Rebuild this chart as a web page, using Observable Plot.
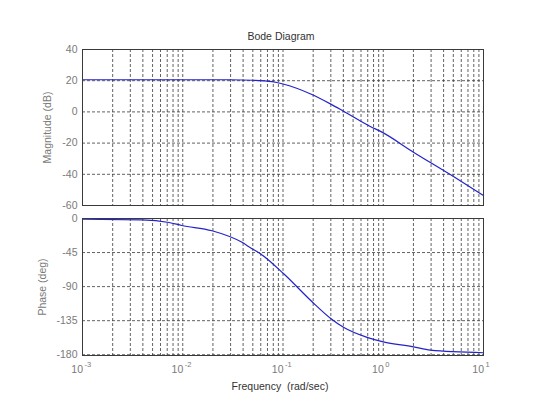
<!DOCTYPE html>
<html>
<head>
<meta charset="utf-8">
<script src="https://cdn.jsdelivr.net/npm/d3@7"></script>
<script src="https://cdn.jsdelivr.net/npm/@observablehq/plot@0.6"></script>
<style>
  html, body { margin: 0; padding: 0; background: #fff; }
  #wrap { position: relative; width: 533px; height: 399px; font-family: "Liberation Sans", Arial, sans-serif; }
  #wrap svg { position: absolute; left: 0; }
</style>
</head>
<body>
<div id="wrap"></div>
<script>
// Data
const magFreq = [0.001, 0.003, 0.01, 0.03, 0.05, 0.078, 0.1, 0.189, 0.3, 0.405, 0.75, 0.94, 2, 4.84, 10];
const magDb   = [20.6, 20.6, 20.6, 20.6, 20.3, 19.4, 17.9, 11.5, 5, 0.3, -9.5, -12.5, -25.8, -40.8, -53.6];

const phFreq = [0.001, 0.0039, 0.0073, 0.0098, 0.0196, 0.039, 0.0477, 0.0599, 0.1016, 0.195, 0.299, 0.405, 0.69, 1.0, 2.0, 2.95, 10];
const phDeg  = [-1, -1.7, -5.3, -9.2, -16.2, -31.5, -38.9, -46.8, -73, -110, -132, -144, -157, -163, -169.5, -174, -177.4];

const magTicks = [40, 20, 0, -20, -40, -60];
const phTicks = [0, -45, -90, -135, -180];
const decadeTicks = [0.001, 0.01, 0.1, 1, 10];
const decadeExp = ["-3", "-2", "-1", "0", "1"];

(function () {
const magData = magFreq.map((f, i) => ({f, v: magDb[i]}));
const phData = phFreq.map((f, i) => ({f, v: phDeg[i]}));
const decData = decadeTicks.map((f, i) => ({f, e: decadeExp[i]}));

const xDomain = [0.001, 10];
const minorTicks = d3.scaleLog().domain(xDomain).ticks();

const gridStyle = {stroke: "#3a3a3a", strokeOpacity: 1, strokeWidth: 0.8, strokeDasharray: "3,2"};
const lineColor = "#2323cc";
const textColor = "#7a7a7a";
const font = "Liberation Sans, Arial, sans-serif";
const fmt = d => String(d);

const wrap = document.getElementById("wrap");

const topPlot = Plot.plot({
  width: 533, height: 210,
  marginLeft: 82, marginRight: 50, marginTop: 49, marginBottom: 5,
  style: {fontFamily: font, fontSize: "10.5px", color: textColor, background: "transparent", overflow: "visible"},
  x: {type: "log", domain: xDomain, axis: null},
  y: {domain: [-60, 40]},
  marks: [
    Plot.ruleX(minorTicks, {...gridStyle}),
    Plot.ruleY(magTicks, {...gridStyle}),
    Plot.line(magData, {x: "f", y: "v", stroke: lineColor, strokeWidth: 1.2, curve: "monotone-x"}),
    Plot.frame({stroke: "#3a3a3a", strokeWidth: 1}),
    Plot.axisY(magTicks, {tickSize: 0, tickPadding: 5, tickFormat: fmt, label: "Magnitude (dB)", labelAnchor: "center", labelArrow: "none", labelOffset: 39, fill: textColor, fontSize: 10.5}),
    Plot.text(["Bode Diagram"], {frameAnchor: "top", dy: -13, dx: -2, lineAnchor: "middle", fill: "#333", fontSize: 10.5})
  ]
});
topPlot.style.top = "0px";
wrap.appendChild(topPlot);

const botPlot = Plot.plot({
  width: 533, height: 189,
  marginLeft: 82, marginRight: 50, marginTop: 8, marginBottom: 44,
  style: {fontFamily: font, fontSize: "10.5px", color: textColor, background: "transparent", overflow: "visible"},
  x: {type: "log", domain: xDomain, axis: null},
  y: {domain: [-181, 0]},
  marks: [
    Plot.ruleX(minorTicks, {...gridStyle}),
    Plot.ruleY(phTicks, {...gridStyle}),
    Plot.line(phData, {x: "f", y: "v", stroke: lineColor, strokeWidth: 1.2, curve: "monotone-x"}),
    Plot.frame({stroke: "#3a3a3a", strokeWidth: 1}),
    Plot.axisY(phTicks, {tickSize: 0, tickPadding: 5, tickFormat: fmt, label: "Phase (deg)", labelAnchor: "center", labelArrow: "none", labelOffset: 44, fill: textColor, fontSize: 10.5}),
    Plot.text(decData, {x: "f", text: () => "10", frameAnchor: "bottom", dy: 14.5, textAnchor: "end", dx: 0.5, lineAnchor: "middle", fill: textColor, fontSize: 10.5}),
    Plot.text(decData, {x: "f", text: "e", frameAnchor: "bottom", dy: 9, textAnchor: "start", dx: 2, lineAnchor: "middle", fill: textColor, fontSize: 7.5}),
    Plot.text(["Frequency  (rad/sec)"], {frameAnchor: "bottom", dy: 31, dx: -3, lineAnchor: "middle", fill: "#333", fontSize: 10.5})
  ]
});
botPlot.style.top = "210px";
wrap.appendChild(botPlot);
})();
</script>
</body>
</html>
